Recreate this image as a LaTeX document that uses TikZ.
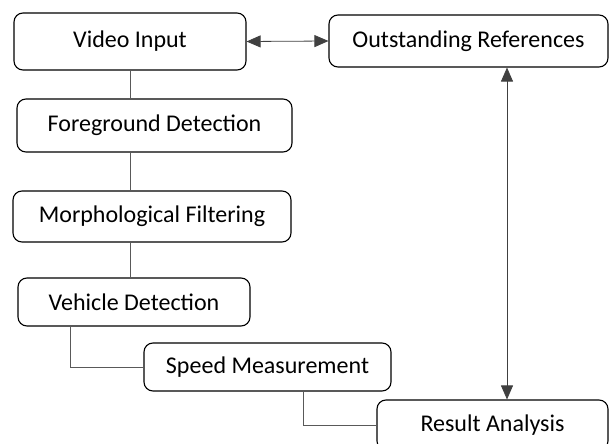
\documentclass[tikz,border=0pt]{standalone}
\usepackage{fontspec}
\setmainfont{Carlito}
\usetikzlibrary{arrows.meta}
\begin{document}
\begin{tikzpicture}[x=1pt, y=-1pt,
    stage/.style={draw, line width=1.1pt, rounded corners=9pt, inner sep=0pt,
                  font=\fontsize{24}{28}\selectfont, text=black},
    link/.style={draw=black!65, line width=0.7pt},
    both/.style={draw=black!75, line width=0.8pt, {Triangle[length=14pt,width=12pt]}-{Triangle[length=14pt,width=12pt]}}]
    \useasboundingbox (0,0) rectangle (611,444);
    \node[stage, minimum width=232pt, minimum height=57pt] (vid)    at (130, 41.5)  {Video Input};
    \node[stage, minimum width=279pt, minimum height=52pt] (outref) at (468.5, 41)  {Outstanding References};
    \node[stage, minimum width=275pt, minimum height=53pt] (fgd)    at (154.5, 125.5) {Foreground Detection};
    \node[stage, minimum width=278pt, minimum height=51pt] (morph)  at (152, 216.5) {Morphological Filtering};
    \node[stage, minimum width=232pt, minimum height=48pt] (veh)    at (134, 302)   {Vehicle Detection};
    \node[stage, minimum width=247pt, minimum height=48pt] (speed)  at (267.5, 367) {Speed Measurement};
    \node[stage, minimum width=231pt, minimum height=50pt] (res)    at (492.5, 425) {Result Analysis};
    \draw[link] (vid.south) -- (vid.south |- fgd.north);
    \draw[link] (vid.south |- fgd.south) -- (vid.south |- morph.north);
    \draw[link] (vid.south |- morph.south) -- (vid.south |- veh.north);
    \draw[link] ([xshift=53pt]veh.south west) |- (speed.west);
    \draw[link] ([xshift=160pt]speed.south west) |- (res.west);
    \draw[both] (vid.east) -- (outref.west);
    \draw[both] ([xshift=14.5pt]res.north) -- ([xshift=14.5pt]res.north |- outref.south);
\end{tikzpicture}
\end{document}
